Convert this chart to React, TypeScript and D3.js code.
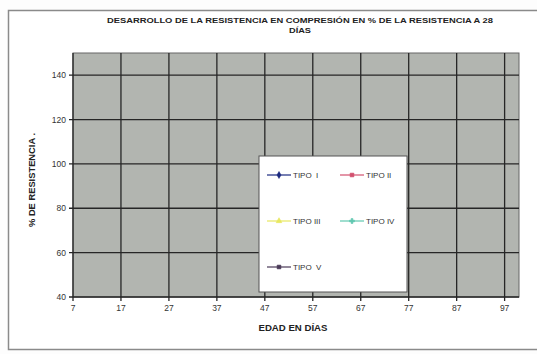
import React from "react";
import * as d3 from "d3";

const titleLines = [
  "DESARROLLO DE LA RESISTENCIA EN COMPRESIÓN EN % DE LA RESISTENCIA A 28",
  "DÍAS",
];
const xTicks = [7, 17, 27, 37, 47, 57, 67, 77, 87, 97];
const yTicks = [40, 60, 80, 100, 120, 140];
const seriesNames = ["TIPO  I", "TIPO II", "TIPO III", "TIPO IV", "TIPO  V"];
const seriesColors = ["#1c2a80", "#d2506e", "#e8e860", "#5fc8b0", "#4a3a58"];
const seriesMarkers = ["diamond", "square", "triangle", "cross", "square"];
// No data points are visible in the reference chart
const seriesValues: number[][] = [[], [], [], [], []];
const xTitle = "EDAD EN DÍAS";
const yTitle = "% DE RESISTENCIA .";

const W = 537;
const H = 354;
const plot = { left: 73, right: 519, top: 53, bottom: 297 };

export default function App() {
  const x = d3.scaleLinear().domain([7, 100]).range([plot.left, plot.right]);
  const y = d3.scaleLinear().domain([40, 150]).range([plot.bottom, plot.top]);
  const line = d3
    .line<[number, number]>()
    .x((d) => x(d[0]))
    .y((d) => y(d[1]));

  const legendPos = [
    [267, 175],
    [340, 175],
    [267, 221],
    [340, 221],
    [267, 267],
  ];

  const marker = (type: string, cx: number, cy: number, color: string) => {
    const sym =
      type === "diamond"
        ? d3.symbolDiamond
        : type === "triangle"
        ? d3.symbolTriangle
        : type === "cross"
        ? d3.symbolCross
        : d3.symbolSquare;
    const p = d3.symbol().type(sym).size(14)();
    return (
      <path
        d={p || ""}
        transform={`translate(${cx},${cy})`}
        fill={color}
        stroke={color}
        strokeWidth={0.6}
      />
    );
  };

  return (
    <svg
      width={W}
      height={H}
      style={{ position: "absolute", left: 0, top: 0, background: "#fff" }}
      fontFamily="Liberation Sans, Arial, sans-serif"
    >
      <rect x={0} y={0} width={W} height={H} fill="#fdfdfd" />
      <rect
        x={8.5}
        y={10.5}
        width={530}
        height={339}
        fill="#fff"
        stroke="#8a8a8a"
        strokeWidth={1.5}
      />
      <text
        x={300}
        y={23}
        textAnchor="middle"
        fontSize={8}
        fontWeight="bold"
        fill="#222"
        textLength={386}
        lengthAdjust="spacingAndGlyphs"
      >
        {titleLines[0]}
      </text>
      <text
        x={300}
        y={33}
        textAnchor="middle"
        fontSize={8}
        fontWeight="bold"
        fill="#222"
        textLength={22}
        lengthAdjust="spacingAndGlyphs"
      >
        {titleLines[1]}
      </text>
      <rect
        x={plot.left}
        y={plot.top}
        width={plot.right - plot.left}
        height={plot.bottom - plot.top}
        fill="#b2b5b0"
        stroke="#666"
        strokeWidth={1}
      />
      {yTicks.map((t) => (
        <g key={"y" + t}>
          <line
            x1={plot.left - 4}
            x2={plot.right}
            y1={y(t)}
            y2={y(t)}
            stroke="#262626"
            strokeWidth={1.3}
          />
          <text
            x={plot.left - 7}
            y={y(t) + 3}
            textAnchor="end"
            fontSize={8.5}
            fill="#333"
          >
            {t}
          </text>
        </g>
      ))}
      {xTicks.map((t) => (
        <g key={"x" + t}>
          <line
            x1={x(t)}
            x2={x(t)}
            y1={plot.top}
            y2={plot.bottom + 4}
            stroke="#262626"
            strokeWidth={1.3}
          />
          <text x={x(t)} y={plot.bottom + 14} textAnchor="middle" fontSize={8.5} fill="#333">
            {t}
          </text>
        </g>
      ))}
      {seriesValues.map((vals, i) =>
        vals.length ? (
          <path
            key={"s" + i}
            d={line(vals.map((v, j) => [xTicks[j], v] as [number, number])) || ""}
            fill="none"
            stroke={seriesColors[i]}
          />
        ) : null
      )}
      <text
        x={293}
        y={331}
        textAnchor="middle"
        fontSize={9}
        fontWeight="bold"
        fill="#222"
        textLength={69}
        lengthAdjust="spacingAndGlyphs"
      >
        {xTitle}
      </text>
      <text
        transform="translate(35,180) rotate(-90)"
        textAnchor="middle"
        fontSize={8.5}
        fontWeight="bold"
        fill="#222"
        textLength={94}
        lengthAdjust="spacingAndGlyphs"
      >
        {yTitle}
      </text>
      <rect
        x={259}
        y={156}
        width={148}
        height={136}
        fill="#fff"
        stroke="#555"
        strokeWidth={1}
      />
      {seriesNames.map((n, i) => {
        const [lx, ly] = legendPos[i];
        return (
          <g key={"l" + i}>
            <line
              x1={lx}
              x2={lx + 24}
              y1={ly}
              y2={ly}
              stroke={seriesColors[i]}
              strokeWidth={1.2}
            />
            {marker(seriesMarkers[i], lx + 12, ly, seriesColors[i])}
            <text x={lx + 26} y={ly + 3} fontSize={8} fill="#333" style={{ whiteSpace: "pre" }}>
              {n}
            </text>
          </g>
        );
      })}
    </svg>
  );
}
